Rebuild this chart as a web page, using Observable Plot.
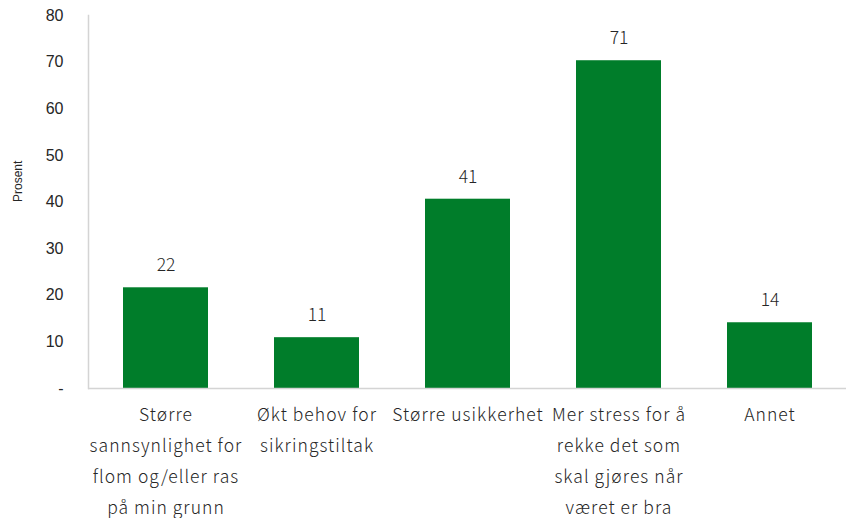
<!DOCTYPE html>
<html>
<head>
<meta charset="utf-8">
<script src="https://cdn.jsdelivr.net/npm/d3@7"></script>
<script src="https://cdn.jsdelivr.net/npm/@observablehq/plot@0.6"></script>
<style>
  html, body { margin: 0; padding: 0; background: #fff; }
</style>
</head>
<body>
<div id="chart"></div>
<script>
const categories = [
  "Større sannsynlighet for flom og/eller ras på min grunn",
  "Økt behov for sikringstiltak",
  "Større usikkerhet",
  "Mer stress for å rekke det som skal gjøres når været er bra",
  "Annet"
];
const categoryLines = [
  "Større\nsannsynlighet for\nflom og/eller ras\npå min grunn",
  "Økt behov for\nsikringstiltak",
  "Større usikkerhet",
  "Mer stress for å\nrekke det som\nskal gjøres når\nværet er bra",
  "Annet"
];
const values = [21.6, 10.9, 40.6, 70.3, 14.1];
const valueLabels = ["22", "11", "41", "71", "14"];
const yTicks = [0, 10, 20, 30, 40, 50, 60, 70, 80];

const data = categories.map((c, i) => ({category: c, value: values[i], label: valueLabels[i]}));
const lineMap = new Map(categories.map((c, i) => [c, categoryLines[i]]));

const labelFont = "'Noto Sans CJK JP', 'Noto Sans', sans-serif";

const chart = Plot.plot({
  width: 847,
  height: 518,
  marginLeft: 88,
  marginRight: 1,
  marginTop: 15,
  marginBottom: 130,
  style: {background: "#fff", color: "#262626"},
  x: {domain: categories, paddingInner: 0.44, paddingOuter: 0.22, label: null},
  y: {domain: [0, 80], label: null},
  marks: [
    Plot.barY(data, {x: "category", y: "value", fill: "#007d2a"}),
    Plot.ruleY([0], {stroke: "#d4d4d4", strokeWidth: 1.5}),
    Plot.frame({anchor: "left", stroke: "#d4d4d4", strokeWidth: 1.5}),
    Plot.axisY({
      ticks: yTicks,
      tickSize: 0,
      tickPadding: 25,
      tickFormat: d => d === 0 ? "-" : String(d),
      fontSize: 16,
      fontFamily: "'Liberation Sans', Arial, sans-serif",
      fill: "#262626",
      label: null
    }),
    Plot.axisX({
      tickSize: 0,
      tickPadding: 10,
      tickFormat: d => lineMap.get(d),
      fontSize: 17.5,
      fontWeight: 300,
      lineHeight: 31 / 17.5,
      fontFamily: labelFont,
      fill: "#262626",
      label: null
    }),
    Plot.text(data, {
      x: "category", y: "value", text: "label",
      dy: -22, fontSize: 17.5, fontWeight: 300, fontFamily: labelFont, fill: "#262626"
    }),
    Plot.text(["Prosent"], {
      frameAnchor: "left", text: d => d, rotate: -90, dx: -70,
      fontSize: 12, fontFamily: "'Liberation Sans', Arial, sans-serif", fill: "#262626"
    })
  ]
});
d3.select(chart).selectAll('g[aria-label="x-axis tick label"] text')
  .style("letter-spacing", "1.05px");
document.getElementById("chart").appendChild(chart);
</script>
</body>
</html>
